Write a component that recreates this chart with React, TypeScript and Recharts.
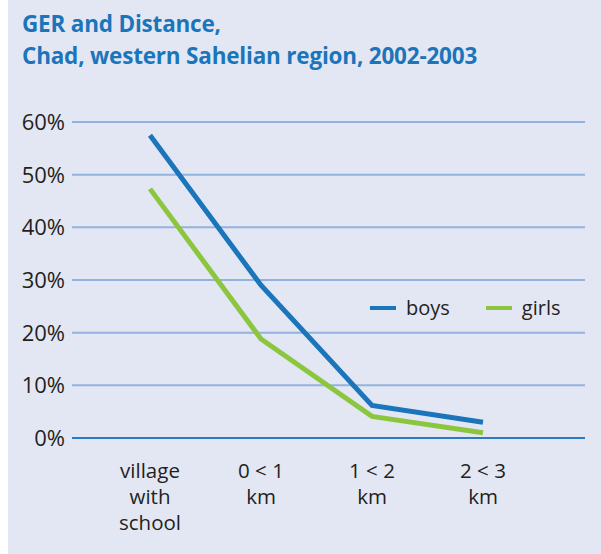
import React from "react";
import {
  LineChart,
  Line,
  XAxis,
  YAxis,
  CartesianGrid,
  ReferenceLine,
} from "recharts";

const categories = ["village with school", "0<1 km", "1<2 km", "2<3 km"];
const tickLines: string[][] = [
  ["village", "with", "school"],
  ["0 < 1", "km"],
  ["1 < 2", "km"],
  ["2 < 3", "km"],
];
const boys = [57.5, 29, 6.2, 3];
const girls = [47.3, 18.8, 4.1, 1];
const yTicks = [0, 10, 20, 30, 40, 50, 60];

const data = categories.map((name, i) => ({
  name,
  boys: boys[i],
  girls: girls[i],
}));

const BLUE = "#1b75bb";
const GREEN = "#8cc63f";
const TEXT = "#231f20";
const FONT = "'Open Sans', 'Noto Sans', sans-serif";

function XTick(props: any) {
  const { x, y, payload } = props;
  const idx = categories.indexOf(payload.value);
  const lines = tickLines[idx] || [payload.value];
  return (
    <text x={x} y={y} textAnchor="middle" fill={TEXT} fontSize={20.5} fontFamily={FONT}>
      {lines.map((l, i) => (
        <tspan key={i} x={x} dy={i === 0 ? 32 : 26}>
          {l}
        </tspan>
      ))}
    </text>
  );
}

function YTick(props: any) {
  const { x, y, payload } = props;
  return (
    <text
      x={x}
      y={y}
      dy={8}
      textAnchor="end"
      fill={TEXT}
      fontSize={22}
      fontFamily={FONT}
    >
      {`${payload.value}%`}
    </text>
  );
}

function LegendBox() {
  const items = [
    { label: "boys", color: BLUE },
    { label: "girls", color: GREEN },
  ];
  return (
    <div
      style={{
        position: "absolute",
        left: 362,
        top: 294,
        display: "flex",
        fontFamily: FONT,
        fontSize: 20,
        color: TEXT,
      }}
    >
      {items.map((it) => (
        <div key={it.label} style={{ display: "flex", alignItems: "center", marginRight: 36 }}>
          <span style={{ width: 26, height: 4, background: it.color, marginRight: 10 }} />
          <span>{it.label}</span>
        </div>
      ))}
    </div>
  );
}

export default function App() {
  return (
    <div
      style={{
        position: "absolute",
        left: 8,
        top: 0,
        width: 593,
        height: 554,
        background: "#e3e7f4",
        overflow: "hidden",
      }}
    >
      <div
        style={{
          position: "absolute",
          left: 14,
          top: 8,
          color: BLUE,
          fontFamily: FONT,
          fontWeight: 700,
          fontSize: 22.5,
          lineHeight: "32px",
          letterSpacing: -0.2,
        }}
      >
        GER and Distance,
        <br />
        Chad, western Sahelian region, 2002-2003
      </div>
      <LineChart
        width={593}
        height={554}
        data={data}
        margin={{ top: 122, right: 16, bottom: 16, left: 0 }}
      >
        <CartesianGrid horizontal vertical={false} stroke="#93b3df" strokeWidth={2} />
        <XAxis
          dataKey="name"
          axisLine={false}
          tickLine={false}
          padding={{ left: 78, right: 102 }}
          height={100}
          interval={0}
          tick={<XTick />}
        />
        <YAxis
          domain={[0, 60]}
          ticks={yTicks}
          width={64}
          axisLine={false}
          tickLine={false}
          tickSize={0}
          tickMargin={7}
          tick={<YTick />}
        />
        <ReferenceLine y={0} stroke="#2a7bc1" strokeWidth={2} />
        <Line
          type="linear"
          dataKey="boys"
          stroke={BLUE}
          strokeWidth={5}
          dot={false}
          isAnimationActive={false}
        />
        <Line
          type="linear"
          dataKey="girls"
          stroke={GREEN}
          strokeWidth={5}
          dot={false}
          isAnimationActive={false}
        />
      </LineChart>
      <LegendBox />
    </div>
  );
}
